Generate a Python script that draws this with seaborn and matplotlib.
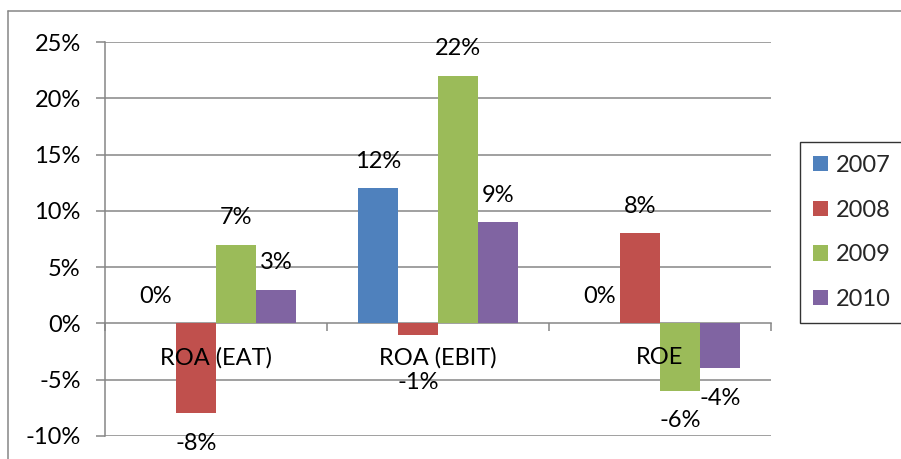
import matplotlib
matplotlib.use("Agg")
import matplotlib.pyplot as plt
from matplotlib.lines import Line2D
from matplotlib.patches import Patch
from matplotlib.ticker import FuncFormatter, FixedLocator
import seaborn as sns
import pandas as pd

# Profitability ratios by year (percent)
categories = ["ROA (EAT)", "ROA (EBIT)", "ROE"]
years = ["2007", "2008", "2009", "2010"]
values_2007 = [0, 12, 0]
values_2008 = [-8, -1, 8]
values_2009 = [7, 22, -6]
values_2010 = [3, 9, -4]
series = [values_2007, values_2008, values_2009, values_2010]
colors = ["#4F81BD", "#C0504D", "#9BBB59", "#8064A2"]
y_ticks = [-10, -5, 0, 5, 10, 15, 20, 25]

sns.set_theme(style="white")
plt.rcParams["font.family"] = ["Lato", "DejaVu Sans"]
FS = 17
GRID = "#868686"

df = pd.DataFrame(
    [(c, y, s[i]) for y, s in zip(years, series) for i, c in enumerate(categories)],
    columns=["ratio", "year", "value"],
)

W, H = 901, 459
fig = plt.figure(figsize=(W / 100, H / 100), dpi=100)
ax = fig.add_axes([105 / W, (H - 436) / H, 666 / W, 394 / H])

sns.barplot(
    data=df, x="ratio", y="value", hue="year", order=categories,
    hue_order=years, palette=colors, width=0.72, saturation=1,
    legend=False, ax=ax, edgecolor="none", linewidth=0, zorder=2,
)

ax.set_xlim(-0.5, 2.5)
ax.set_ylim(y_ticks[0], y_ticks[-1])
ax.set_xlabel("")
ax.set_ylabel("")

# horizontal gridlines behind the bars
for t in y_ticks:
    if t != 0:
        ax.axhline(t, color=GRID, lw=1.1, zorder=0.5)

for side in ["top", "right"]:
    ax.spines[side].set_visible(False)
ax.spines["left"].set_color(GRID)
ax.spines["left"].set_linewidth(1.1)
ax.spines["bottom"].set_position(("data", 0))
ax.spines["bottom"].set_color(GRID)
ax.spines["bottom"].set_linewidth(1.1)
ax.spines["bottom"].set_zorder(1.5)

ax.yaxis.set_major_locator(FixedLocator(y_ticks))
ax.yaxis.set_major_formatter(FuncFormatter(lambda v, p: f"{v:.0f}%"))
ax.tick_params(axis="y", length=6.5, width=1.1, color=GRID, direction="out",
               labelsize=FS, labelcolor="black", pad=11, left=True)

# category separators on the zero line
ax.set_xticks([-0.5, 0.5, 1.5, 2.5])
ax.set_xticklabels([])
ax.tick_params(axis="x", length=6, width=1.1, color=GRID, direction="out", bottom=True)

for i, c in enumerate(categories):
    ax.annotate(c, xy=(i, 0), xytext=(0, -34 * 0.72), textcoords="offset points",
                ha="center", va="center", fontsize=FS, color="black", zorder=6)

# value labels above / below each bar
fig.canvas.draw()
px_per_unit = ax.transData.transform((0, 1))[1] - ax.transData.transform((0, 0))[1]
for cont, vals in zip(ax.containers, series):
    for bar, v in zip(cont, vals):
        x = bar.get_x() + bar.get_width() / 2
        if v >= 0:
            off_px = 27
        else:
            bar_px = -v * px_per_unit
            off_px = -max(30, 59 - bar_px)
        ax.annotate(f"{v:.0f}%", xy=(x, v), xytext=(0, off_px * 0.72),
                    textcoords="offset points", ha="center", va="center",
                    fontsize=FS, color="black", zorder=6, annotation_clip=False)

# legend
handles = [Patch(facecolor=c, edgecolor="none", label=y) for c, y in zip(colors, years)]
leg = fig.legend(
    handles=handles, loc="upper left", bbox_to_anchor=(800 / W, 1 - 142 / H),
    bbox_transform=fig.transFigure, borderaxespad=0, fontsize=FS,
    handlelength=0.63, handleheight=0.63, handletextpad=0.34,
    borderpad=0.55, labelspacing=1.0, fancybox=False, frameon=True,
)
leg.get_frame().set_edgecolor("black")
leg.get_frame().set_linewidth(1.0)

# chart border
fig.add_artist(Line2D([8 / W, 1.0], [1 - 11 / H, 1 - 11 / H], transform=fig.transFigure,
                      color=GRID, lw=1.1))
fig.add_artist(Line2D([8 / W, 8 / W], [0.0, 1 - 11 / H], transform=fig.transFigure,
                      color=GRID, lw=1.1))

fig.savefig("out.png", dpi=100, facecolor="white")
